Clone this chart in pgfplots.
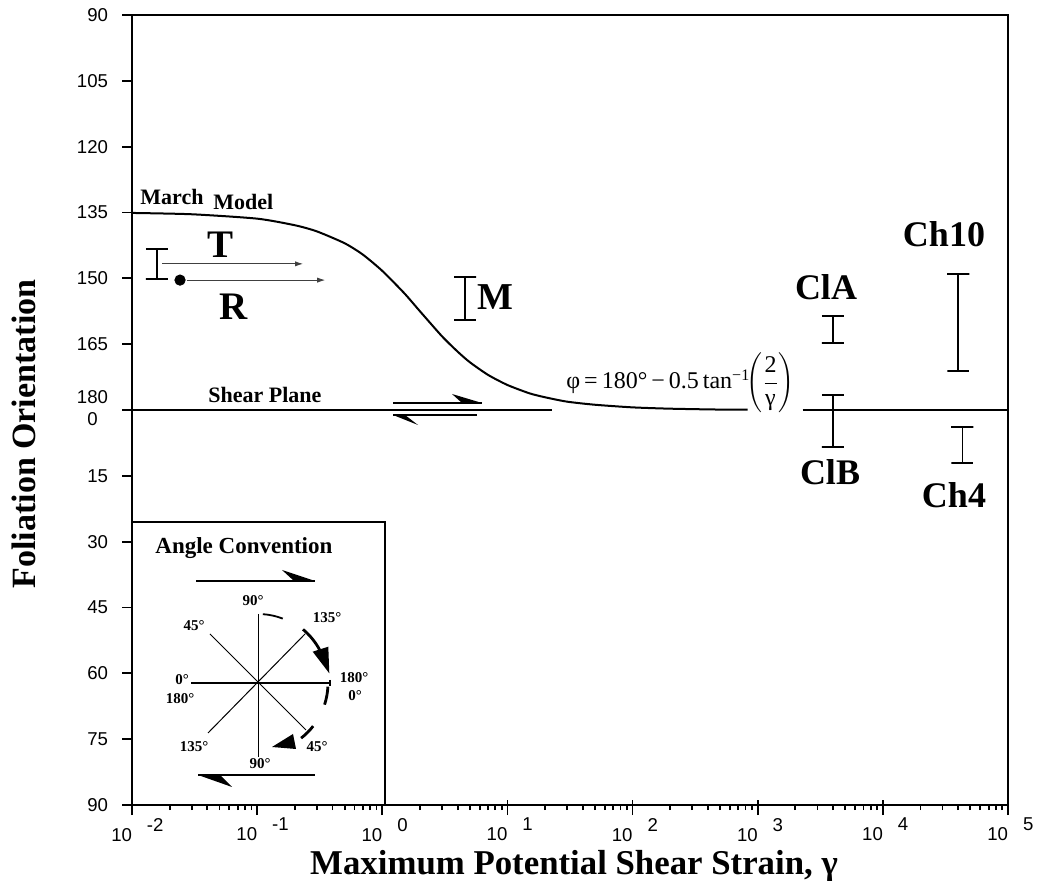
\documentclass[border=0pt]{standalone}
\usepackage{fontspec}
\setmainfont{Liberation Serif}
\newfontfamily\arial{Liberation Sans}
\usepackage{pgfplots}
\pgfplotsset{compat=1.18}
\usetikzlibrary{arrows.meta}
\newcommand{\xl}[1]{\makebox[0pt][r]{10}\makebox[0pt][l]{\hspace{7.5pt}\raisebox{5pt}{#1}}}
\pgfplotsset{ebar/.style={black, line width=0.85pt, mark=none}}
\begin{document}
\begin{tikzpicture}
\useasboundingbox (0,0) rectangle (520pt,-440.5pt);
\begin{axis}[
  at={(66pt,-402.5pt)}, anchor=south west,
  scale only axis, width=438pt, height=395pt,
  xmode=log, xmin=0.01, xmax=100000,
  ymin=90, ymax=270, y dir=reverse,
  axis line style={line width=1.1pt},
  every tick/.style={black, line width=0.9pt},
  tick align=outside,
  xtick pos=left, ytick pos=left,
  major tick length=5pt, minor tick length=2.5pt,
  xtick={0.01,0.1,1,10,100,1000,10000,100000},
  xticklabels={\xl{-2},\xl{-1},\xl{0},\xl{1},\xl{2},\xl{3},\xl{4},\xl{5}},
  minor xtick={0.02,0.03,0.04,0.05,0.06,0.07,0.08,0.09,
    0.2,0.3,0.4,0.5,0.6,0.7,0.8,0.9,
    2,3,4,5,6,7,8,9,
    20,30,40,50,60,70,80,90,
    200,300,400,500,600,700,800,900,
    2000,3000,4000,5000,6000,7000,8000,9000,
    20000,30000,40000,50000,60000,70000,80000,90000},
  extra x ticks={0.01,0.1,1,10,100,1000,10000,100000},
  extra x tick labels={},
  extra x tick style={tick align=inside, major tick length=2.5pt},
  ytick={90,105,...,270},
  yticklabels={90,105,120,135,150,165,{\begin{tabular}{@{}c@{}}180\\[1pt]0\end{tabular}},15,30,45,60,75,90},
  tick label style={font=\arial\fontsize{9.3}{10}\selectfont},
  yticklabel style={xshift=-3.5pt},
  xticklabel style={yshift=2pt},
  clip=false,
]
% March model curve
\addplot[black, line width=1pt, smooth, tension=0.4] coordinates {
 (0.01,135.1) (0.03,135.4) (0.1,136.4) (0.2,137.9) (0.3,139.3) (0.5,142.0)
 (0.7,144.6) (1,148.3) (1.5,153.4) (2,157.5) (3,163.2) (4,166.7) (5,169.1)
 (7,172.0) (10,174.3) (15,176.2) (20,177.1) (30,178.1) (50,178.8) (100,179.4)
 (200,179.7) (500,179.9) (830,179.9)};
% shear plane
\addplot[black, line width=1pt] coordinates {(0.01,180) (22.9,180)};
\addplot[black, line width=1pt] coordinates {(2290,180) (100000,180)};
% range bars (cap left, cap right, stem, top cap)
\addplot[ebar] coordinates {(0.0129,143.3) (0.01935,143.3) (0.0158,143.3) (0.0158,150.2) (0.0129,150.2) (0.01935,150.2)};
\addplot[ebar] coordinates {(3.756,149.7) (5.633,149.7) (4.6,149.7) (4.6,159.5) (3.756,159.5) (5.633,159.5)};
\addplot[ebar] coordinates {(3250,158.6) (4874,158.6) (3980,158.6) (3980,164.7) (3250,164.7) (4874,164.7)};
\addplot[ebar] coordinates {(3250,176.6) (4874,176.6) (3980,176.6) (3980,188.4) (3250,188.4) (4874,188.4)};
\addplot[ebar] coordinates {(32745,149.0) (49106,149.0) (40100,149.0) (40100,171.1) (32745,171.1) (49106,171.1)};
\addplot[ebar] coordinates {(35277,183.9) (52903,183.9) (43200,183.9) (43200,192.1) (35277,192.1) (52903,192.1)};
% R point
\addplot[only marks, mark=*, mark size=2.6pt, black] coordinates {(0.0242,150.4)};
% T and R arrows
\draw[-{Latex[length=4pt,width=2.6pt]}, line width=0.45pt, black!75] (axis cs:0.0174,146.7) -- (axis cs:0.233,146.7);
\draw[-{Latex[length=4pt,width=2.6pt]}, line width=0.45pt, black!75] (axis cs:0.0275,150.4) -- (axis cs:0.35,150.4);
\end{axis}
% annotations in pixel coordinates
\begin{scope}[x=0.5pt,y=-0.5pt]
\node[anchor=base west, inner sep=0, font=\bfseries\fontsize{11}{13}\selectfont] at (140,205) {March};
\node[anchor=base west, inner sep=0, font=\bfseries\fontsize{11}{13}\selectfont] at (213,210) {Model};
\node[anchor=base west, inner sep=0, font=\bfseries\fontsize{11}{13}\selectfont] at (208,403) {Shear Plane};
\node[anchor=base, inner sep=0, font=\bfseries\fontsize{19.5}{22}\selectfont] at (221,258) {T};
\node[anchor=base, inner sep=0, font=\bfseries\fontsize{19.5}{22}\selectfont] at (234,320) {R};
\node[anchor=base west, inner sep=0, font=\bfseries\fontsize{19}{22}\selectfont] at (477,310) {M};
\node[anchor=base, inner sep=0, font=\bfseries\fontsize{18}{22}\selectfont] at (826,300) {ClA};
\node[anchor=base, inner sep=0, font=\bfseries\fontsize{18}{22}\selectfont] at (944,247) {Ch10};
\node[anchor=base, inner sep=0, font=\bfseries\fontsize{18}{22}\selectfont] at (830,485) {ClB};
\node[anchor=base, inner sep=0, font=\bfseries\fontsize{18}{22}\selectfont] at (954,508) {Ch4};
\node[anchor=base west, inner sep=0, font=\fontsize{12}{13}\selectfont] at (566,389)
  {φ\,=\,180°\,−\,0.5\,tan\textsuperscript{−1}\!$\displaystyle\left(\frac{\mbox{2}}{\mbox{γ}}\right)$};
% shear sense arrows
\draw[line width=1.1pt] (393,403) -- (482,403);
\fill (452,394) -- (482,403) -- (462,403) -- cycle;
\draw[line width=1.1pt] (393,415) -- (477,415);
\fill (393,415) -- (418,425) -- (405,415) -- cycle;
% axis labels
\node[rotate=90, font=\bfseries\fontsize{17}{20}\selectfont] at (24,434) {Foliation Orientation};
\node[anchor=base, inner sep=0, font=\bfseries\fontsize{17.4}{20}\selectfont] at (574,875) {Maximum Potential Shear Strain, γ};
% inset box
\fill[white] (133,523) rectangle (384.5,804.4);
\draw[line width=1pt] (132,522) -- (385,522) -- (385,805);
\node[anchor=base west, inner sep=0, font=\bfseries\fontsize{11.5}{13}\selectfont] at (155,554) {Angle Convention};
\end{scope}
% inset star, relative to its centre
\begin{scope}[shift={(129pt,-341.5pt)}, x=0.5pt, y=0.5pt]
\draw[line width=0.8pt] (-62,102) -- (57,102);
\fill (24,113) -- (57,102) -- (36,102) -- cycle;
\draw[line width=0.8pt] (-60,-92) -- (57,-92);
\fill (-60,-92) -- (-26,-104) -- (-38,-92) -- cycle;
\draw[line width=1.2pt] (-67,0) -- (72,0);
\draw[line width=0.6pt] (72,3) -- (72,-3);
\draw[line width=0.5pt] (0,69) -- (0,-74);
\draw[line width=0.5pt] (-48,49) -- (48,-47);
\draw[line width=0.5pt] (-50,-50) -- (47,49);
\draw[line width=0.9pt] (86:69) arc[start angle=86, end angle=69, radius=69];
\draw[line width=1.4pt] (50:70) arc[start angle=50, end angle=28, radius=70];
\fill (54.7,31.3) -- (70.3,36.3) -- (71.3,9.7) -- cycle;
\draw[line width=1.4pt] (-3:70) arc[start angle=-3, end angle=-18, radius=70];
\draw[line width=1.4pt] (-38:70) arc[start angle=-38, end angle=-52, radius=70];
\fill (14,-64) -- (35,-51) -- (38,-66) -- cycle;
\begin{scope}[every node/.style={font=\bfseries\fontsize{7.5}{8}\selectfont, inner sep=0}]
\node at (-5,82) {90°};
\node at (69,65) {135°};
\node at (-64,57) {45°};
\node at (-76,3) {0°};
\node at (-78,-16) {180°};
\node at (96,5) {180°};
\node at (97,-13) {0°};
\node at (-64,-64) {135°};
\node at (59,-64) {45°};
\node at (2,-81) {90°};
\end{scope}
\end{scope}
\end{tikzpicture}
\end{document}
